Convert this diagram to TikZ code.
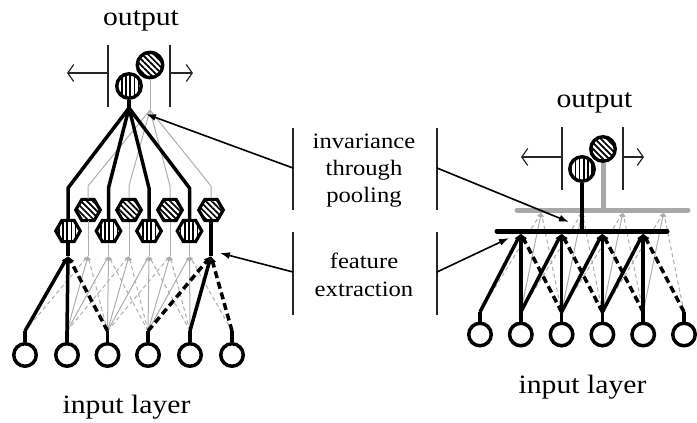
\documentclass[tikz,border=0pt]{standalone}
\usepackage{fontspec}
\setmainfont{Liberation Serif}
\newfontfamily\lblfont[FakeStretch=1.12]{Liberation Serif}
\usetikzlibrary{arrows.meta,shapes.geometric,patterns.meta}
\definecolor{lg}{gray}{0.68}
\definecolor{bargray}{gray}{0.66}
\tikzset{
  inneuron/.style={circle,draw,line width=3.5pt,minimum size=22.5pt,inner sep=0pt,fill=white},
  outneuron/.style={circle,draw,line width=3.4pt,minimum size=24.5pt,inner sep=0pt},
  hexunit/.style={regular polygon,regular polygon sides=6,draw,line width=3.2pt,minimum size=24.5pt,inner sep=0pt},
  vpat/.style={preaction={fill=white},pattern={Lines[angle=90,distance=4.2pt,line width=1.7pt]}},
  dpat/.style={preaction={fill=white},pattern={Lines[angle=-45,distance=4.2pt,line width=1.7pt]}},
  blk/.style={line width=3.5pt,line join=round},
  blkd/.style={line width=3.5pt,dash pattern=on 7pt off 4pt},
  gry/.style={draw=lg,line width=1pt},
  gryd/.style={draw=lg,line width=1pt,dash pattern=on 4pt off 3pt},
  tipB/.style={-{Latex[length=7pt,width=7pt]}},
  tipG/.style={-{Latex[length=4.5pt,width=4pt]}},
  markbar/.style={line width=1.2pt,draw=black!85},
  shiftarr/.style={line width=1.2pt,draw=black!85,-{Straight Barb[length=6pt,width=17pt]}},
  callout/.style={line width=1.6pt,-{Latex[length=10pt,width=7pt]}},
  lbl/.style={font=\lblfont\fontsize{26.5}{30}\selectfont,inner sep=0pt,anchor=base},
  midlbl/.style={font=\lblfont\fontsize{22}{26}\selectfont,inner sep=0pt,anchor=base},
}
\begin{document}
\begin{tikzpicture}[x=1pt,y=-1pt]
\useasboundingbox (0,0) rectangle (697,423);

% ---------------- labels ----------------
\node[lbl] (outL) at (141,25) {output};
\node[lbl] (outR) at (594.5,107) {output};
\node[lbl] (inLlab) at (126.5,413) {input layer};
\node[lbl] (inRlab) at (582.5,393) {input layer};
\node[midlbl] (inv1) at (364,148) {invariance};
\node[midlbl] (inv2) at (364,175) {through};
\node[midlbl] (inv3) at (364,202) {pooling};
\node[midlbl] (feat1) at (364,268) {feature};
\node[midlbl] (feat2) at (364,296) {extraction};

% ---------------- left network ----------------
\foreach \i/\x in {1/25,2/67,3/107.5,4/148,5/190,6/232} {
  \node[inneuron] (inL\i) at (\x,355) {};
  \coordinate (sL\i) at (\x,331);
}
\foreach \i/\x in {1/88,2/129,3/170,4/211} {
  \node[hexunit,dpat] (hD\i) at (\x,210) {};
  \coordinate (dD\i) at (\x,256);
}
\foreach \i/\x in {1/68,2/108.5,3/149,4/189.5} {
  \node[hexunit,vpat] (hV\i) at (\x,231) {};
  \coordinate (dV\i) at (\x,256);
}
\node[outneuron,dpat,minimum size=25.5pt] (oLD) at (150,65) {};
\node[outneuron,vpat] (oLV) at (129,86) {};
\coordinate (oLDs) at (150,110);
\coordinate (oLVs) at (129,108);

% pooling fan
\draw[gry] (oLD.south) -- (oLDs);
\foreach \i in {1,...,4} \draw[gry] (oLDs) -- (hD\i.north |- 0,186) -- (hD\i.north);
\draw[blk] (oLV.south) -- (oLVs);
\foreach \i in {1,...,4} \draw[blk] (oLVs) -- (hV\i.north |- 0,188) -- (hV\i.north);

% hexagon down-lines
\foreach \i in {2,3,4} \draw[gry] (hV\i.south) -- (dV\i);
\foreach \i in {1,2,3} \draw[gry] (hD\i.south) -- (dD\i);

% gray input connections
\foreach \u/\a/\b/\c in {2/2/3/4,3/3/4/5,4/4/5/6} {
  \draw[gry,tipG] (sL\a) -- (dV\u);
  \draw[gry,tipG] (sL\b) -- (dV\u);
  \draw[gryd,tipG] (sL\c) -- (dV\u);
}
\foreach \u/\a/\b/\c in {1/1/2/3,2/2/3/4,3/3/4/5} {
  \draw[gryd,tipG] (sL\a) -- (dD\u);
  \draw[gry,tipG] (sL\b) -- (dD\u);
  \draw[gryd,tipG] (sL\c) -- (dD\u);
}
% black input connections
\draw[blk] (hV1.south) -- (dV1);
\draw[blk] (hD4.south) -- (dD4);
\draw[blk,tipB] (sL1) -- (dV1);
\draw[blk,tipB] (sL2) -- (dV1);
\draw[blkd,tipB] (sL3) -- (dV1);
\draw[blkd,tipB] (sL4) -- (dD4);
\draw[blk,tipB] (sL5) -- (dD4);
\draw[blkd,tipB] (sL6) -- (dD4);
\foreach \i in {1,...,6} \draw[blk] (inL\i.north) -- (sL\i);

% shift markers (left)
\coordinate (mLa1) at (108,45); \coordinate (mLa2) at (108,107);
\coordinate (mLb1) at (170,45); \coordinate (mLb2) at (170,107);
\coordinate (mLa) at (108,73); \coordinate (mLb) at (170,73);
\coordinate (mLae) at (67,73); \coordinate (mLbe) at (193,73);
\draw[markbar] (mLa1) -- (mLa2);
\draw[markbar] (mLb1) -- (mLb2);
\draw[shiftarr] (mLa) -- (mLae);
\draw[shiftarr] (mLb) -- (mLbe);

% ---------------- right network ----------------
\foreach \i/\x in {1/480,2/520.8,3/561.6,4/602.4,5/643.2,6/684} {
  \node[inneuron] (inR\i) at (\x,334.5) {};
  \coordinate (sR\i) at (\x,312);
}
\foreach \i/\x in {1/520.8,2/561.6,3/602.4,4/643.2} {
  \coordinate (dRV\i) at (\x,233.5);
  \coordinate (dRD\i) at (\x+20.5,212.5);
}
\coordinate (gbL) at (517,210); \coordinate (gbR) at (688,210);
\coordinate (bbL) at (497,231); \coordinate (bbR) at (667,231);
\coordinate (gbM) at (603,210); \coordinate (bbM) at (582,231);

\foreach \u/\a/\b/\c in {1/1/2/3,2/2/3/4,3/3/4/5,4/4/5/6} {
  \draw[gryd,tipG] (sR\a) -- (dRD\u);
  \draw[gry,tipG] (sR\b) -- (dRD\u);
  \draw[gryd,tipG] (sR\c) -- (dRD\u);
}
\draw[bargray,line width=5pt,line cap=round] (gbL) -- (gbR);
\node[outneuron,dpat] (oRD) at (603,149) {};
\draw[bargray,line width=5pt] (gbM) -- (oRD.south);

\foreach \u/\a/\b/\c in {1/1/2/3,2/2/3/4,3/3/4/5,4/4/5/6} {
  \draw[blk,tipB] (sR\a) -- (dRV\u);
  \draw[blk,tipB] (sR\b) -- (dRV\u);
  \draw[blkd,tipB] (sR\c) -- (dRV\u);
}
\foreach \i in {1,...,6} \draw[blk] (inR\i.north) -- (sR\i);
\draw[black,line width=5pt,line cap=round] (bbL) -- (bbR);
\node[outneuron,vpat] (oRV) at (582,169) {};
\draw[black,line width=4.5pt] (bbM) -- (oRV.south);

% shift markers (right)
\coordinate (mRa1) at (562,127); \coordinate (mRa2) at (562,190);
\coordinate (mRb1) at (623,127); \coordinate (mRb2) at (623,190);
\coordinate (mRa) at (562,157); \coordinate (mRb) at (623,157);
\coordinate (mRae) at (521,157); \coordinate (mRbe) at (644,157);
\draw[markbar] (mRa1) -- (mRa2);
\draw[markbar] (mRb1) -- (mRb2);
\draw[shiftarr] (mRa) -- (mRae);
\draw[shiftarr] (mRb) -- (mRbe);

% ---------------- middle brackets and callouts ----------------
\coordinate (pL1) at (293,128); \coordinate (pL2) at (293,210);
\coordinate (pR1) at (437,128); \coordinate (pR2) at (437,210);
\coordinate (fL1) at (293,232); \coordinate (fL2) at (293,315);
\coordinate (fR1) at (437,232); \coordinate (fR2) at (437,315);
\draw[markbar] (pL1) -- (pL2);
\draw[markbar] (pR1) -- (pR2);
\draw[markbar] (fL1) -- (fL2);
\draw[markbar] (fR1) -- (fR2);
\coordinate (pLs) at (293,168); \coordinate (pRs) at (437,168);
\coordinate (fLs) at (293,272); \coordinate (fRs) at (437,272);
\coordinate (pLt) at (146,114); \coordinate (pRt) at (569,222);
\coordinate (fLt) at (220,253); \coordinate (fRt) at (509,238);
\draw[callout] (pLs) -- (pLt);
\draw[callout] (pRs) -- (pRt);
\draw[callout] (fLs) -- (fLt);
\draw[callout] (fRs) -- (fRt);
\end{tikzpicture}
\end{document}
